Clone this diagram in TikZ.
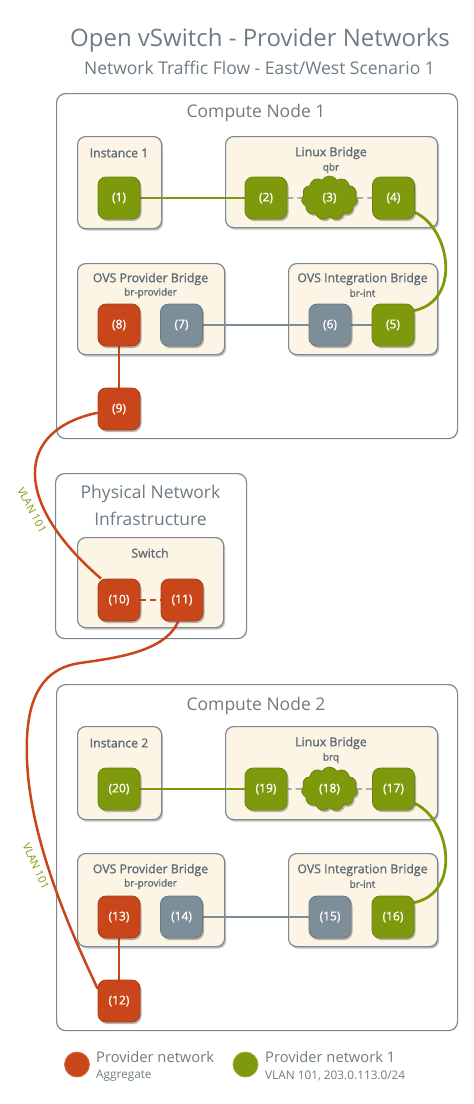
\documentclass[tikz,border=0pt]{standalone}
\usepackage{fontspec}
\setmainfont{Open Sans}
\newfontfamily\semib[FakeBold=1.3]{Open Sans}
\usetikzlibrary{shapes.symbols,shadows}
\definecolor{pred}{HTML}{C9461B}
\definecolor{pgreen}{HTML}{7E9A0C}
\definecolor{pgray}{HTML}{7C8E97}
\definecolor{cream}{HTML}{FCF5E5}
\definecolor{boxline}{HTML}{7A8890}
\definecolor{titlec}{HTML}{6E7C84}
\definecolor{labc}{HTML}{5E6C74}
\pgfdeclarelayer{bg}
\pgfdeclarelayer{mid}
\pgfsetlayers{bg,mid,main}
\begin{document}
\begin{tikzpicture}[x=1pt,y=-1pt,
  outerbox/.style={draw=boxline, line width=1.2pt, fill=white, rounded corners=9pt, anchor=north west, inner sep=0pt},
  innerbox/.style={draw=boxline, line width=1.2pt, fill=cream, rounded corners=8pt, anchor=north west, inner sep=0pt,
     drop shadow={shadow xshift=1.5pt, shadow yshift=-2pt, opacity=0.35, fill=black!70}},
  port/.style={rounded corners=8pt, minimum width=42pt, minimum height=42pt, inner sep=0pt, text=white,
     font=\semib\fontsize{12}{14}\selectfont, line width=0.8pt,
     drop shadow={shadow xshift=1.5pt, shadow yshift=-2pt, opacity=0.4, fill=black!70}},
  gport/.style={port, fill=pgreen, draw=pgreen!85!black},
  rport/.style={port, fill=pred, draw=pred!85!black},
  yport/.style={port, fill=pgray, draw=pgray!85!black},
  cloudport/.style={cloud, cloud puffs=11, cloud puff arc=120, aspect=1.25, minimum width=56pt, minimum height=44pt,
     inner sep=0pt, fill=pgreen, draw=pgreen!85!black, line width=0.8pt, text=white, font=\semib\fontsize{12}{14}\selectfont,
     drop shadow={shadow xshift=1.5pt, shadow yshift=-2pt, opacity=0.4, fill=black!70}},
  boxlabel/.style={text=labc, font=\semib\fontsize{12.3}{14}\selectfont, inner sep=0pt},
  sublabel/.style={text=labc, font=\semib\fontsize{10}{12}\selectfont, inner sep=0pt},
  biglabel/.style={text=titlec, font=\fontsize{17.5}{20}\selectfont, inner sep=0pt},
  gline/.style={draw=pgreen, line width=2.8pt},
  yline/.style={draw=pgray, line width=2.8pt},
  rline/.style={draw=pred, line width=2.5pt},
  dline/.style={draw=pgray, line width=1.3pt, dash pattern=on 6pt off 4pt},
  rdline/.style={draw=pred, line width=1.3pt, dash pattern=on 6pt off 4pt},
  vlan/.style={text=pgreen, font=\fontsize{11}{12}\selectfont, inner sep=0pt},
  legtitle/.style={text=titlec, font=\fontsize{14.7}{17}\selectfont, inner sep=0pt, anchor=west},
  legsub/.style={text=titlec, font=\fontsize{11.8}{13}\selectfont, inner sep=0pt, anchor=west}
]
\useasboundingbox (0,0) rectangle (474,1104);

% titles
\node[text=titlec, font=\fontsize{24}{28}\selectfont, inner sep=0pt] (title) at (260,40) {Open vSwitch - Provider Networks};
\node[text=titlec, font=\fontsize{17.5}{20}\selectfont, inner sep=0pt] (subtitle) at (259.5,68) {Network Traffic Flow - East/West Scenario 1};

\begin{pgfonlayer}{bg}
  % Compute node 1
  \node[outerbox, minimum width=401pt, minimum height=345pt] (cn1) at (56,93) {};
  \node[innerbox, minimum width=84pt, minimum height=92pt] (inst1) at (77,136) {};
  \node[innerbox, minimum width=212pt, minimum height=91pt] (lb1) at (225,136) {};
  \node[innerbox, minimum width=147pt, minimum height=91pt] (ovsp1) at (77,263) {};
  \node[innerbox, minimum width=149pt, minimum height=91pt] (ovsi1) at (288,263) {};
  % Physical
  \node[outerbox, minimum width=191pt, minimum height=165pt] (phys) at (55,473) {};
  \node[innerbox, minimum width=146pt, minimum height=90pt] (sw) at (77,537) {};
  % Compute node 2
  \node[outerbox, minimum width=401pt, minimum height=346pt] (cn2) at (56,684) {};
  \node[innerbox, minimum width=84pt, minimum height=93pt] (inst2) at (77,726) {};
  \node[innerbox, minimum width=212pt, minimum height=93pt] (lb2) at (225,726) {};
  \node[innerbox, minimum width=147pt, minimum height=93pt] (ovsp2) at (77,853) {};
  \node[innerbox, minimum width=149pt, minimum height=93pt] (ovsi2) at (288,853) {};
\end{pgfonlayer}

% box labels
\node[biglabel] (lcn1) at (256,113) {Compute Node 1};
\node[boxlabel] (linst1) at (119,153) {Instance 1};
\node[boxlabel] (llb1) at (331,153) {Linux Bridge};
\node[sublabel] (llb1b) at (331,168) {qbr};
\node[boxlabel] (lovsp1) at (150.5,279) {OVS Provider Bridge};
\node[sublabel] (lovsp1b) at (150.5,293) {br-provider};
\node[boxlabel] (lovsi1) at (362.5,279) {OVS Integration Bridge};
\node[sublabel] (lovsi1b) at (362.5,293) {br-int};

\node[biglabel] (lphys1) at (150.5,494) {Physical Network};
\node[biglabel] (lphys2) at (150.5,519) {Infrastructure};
\node[boxlabel] (lsw) at (150,553) {Switch};

\node[biglabel] (lcn2) at (256,706) {Compute Node 2};
\node[boxlabel] (linst2) at (119,743) {Instance 2};
\node[boxlabel] (llb2) at (331,743) {Linux Bridge};
\node[sublabel] (llb2b) at (331,758) {brq};
\node[boxlabel] (lovsp2) at (150.5,870) {OVS Provider Bridge};
\node[sublabel] (lovsp2b) at (150.5,884) {br-provider};
\node[boxlabel] (lovsi2) at (362.5,870) {OVS Integration Bridge};
\node[sublabel] (lovsi2b) at (362.5,884) {br-int};

% ports
\node[gport] (n1) at (119,198) {(1)};
\node[gport] (n2) at (266,198) {(2)};
\node[cloudport] (n3) at (329.5,198) {(3)};
\node[gport] (n4) at (393.5,198) {(4)};
\node[gport] (n5) at (393,325) {(5)};
\node[yport] (n6) at (330,325) {(6)};
\node[yport] (n7) at (181.5,325) {(7)};
\node[rport] (n8) at (119,325) {(8)};
\node[rport] (n9) at (119,409) {(9)};
\node[rport] (n10) at (119,600) {(10)};
\node[rport] (n11) at (182,600) {(11)};
\node[rport] (n12) at (119,1001) {(12)};
\node[rport] (n13) at (119,917) {(13)};
\node[yport] (n14) at (181.5,917) {(14)};
\node[yport] (n15) at (330,917) {(15)};
\node[gport] (n16) at (393,917) {(16)};
\node[gport] (n17) at (393.5,789) {(17)};
\node[cloudport] (n18) at (329.5,789) {(18)};
\node[gport] (n19) at (266,789) {(19)};
\node[gport] (n20) at (119,789) {(20)};

% connectors
\begin{pgfonlayer}{mid}
  \draw[gline] (n1) -- (n2);
  \draw[dline] (n2) -- (n3);
  \draw[dline] (n3) -- (n4);
  \draw[gline] (n4.-34) .. controls (450,228) and (462,300) .. (n5.34);
  \draw[yline] (n5) -- (n6);
  \draw[yline] (n7) -- (n6);
  \draw[rline] (n8) -- (n9);
  \draw[rline] (n9.190) .. controls (15,430) and (12,502) .. (n10.130);
  \draw[rdline] (n10) -- (n11);
  \coordinate (w1) at (80,663);
  \coordinate (w2) at (27,760);
  \draw[rline] (n11.-100) .. controls (165,652) and (115,658) .. (w1)
     .. controls (30,670) and (25.5,720) .. (w2)
     .. controls (30,840) and (70,930) .. (n12.150);
  \draw[rline] (n13) -- (n12);
  \draw[yline] (n14) -- (n15);
  \draw[gline] (n16.34) .. controls (462,892) and (450,820) .. (n17.-34);
  \draw[dline] (n17) -- (n18);
  \draw[dline] (n18) -- (n19);
  \draw[gline] (n19) -- (n20);
\end{pgfonlayer}

\node[vlan, rotate=-62] (vl1) at (32,510) {VLAN 101};
\node[vlan, rotate=-66] (vl2) at (36,866) {VLAN 101};

% legend
\node[circle, fill=pred, draw=pred!80!white, line width=0.8pt, minimum size=25pt, inner sep=0pt] (lg1) at (77,1064.5) {};
\node[legtitle] (lg1a) at (96,1057) {Provider network};
\node[legsub] (lg1b) at (96,1076) {Aggregate};
\node[circle, fill=pgreen, draw=pgreen!80!white, line width=0.8pt, minimum size=25pt, inner sep=0pt] (lg2) at (245.5,1064.5) {};
\node[legtitle] (lg2a) at (265,1057) {Provider network 1};
\node[legsub] (lg2b) at (265,1076) {VLAN 101, 203.0.113.0/24};
\end{tikzpicture}
\end{document}
